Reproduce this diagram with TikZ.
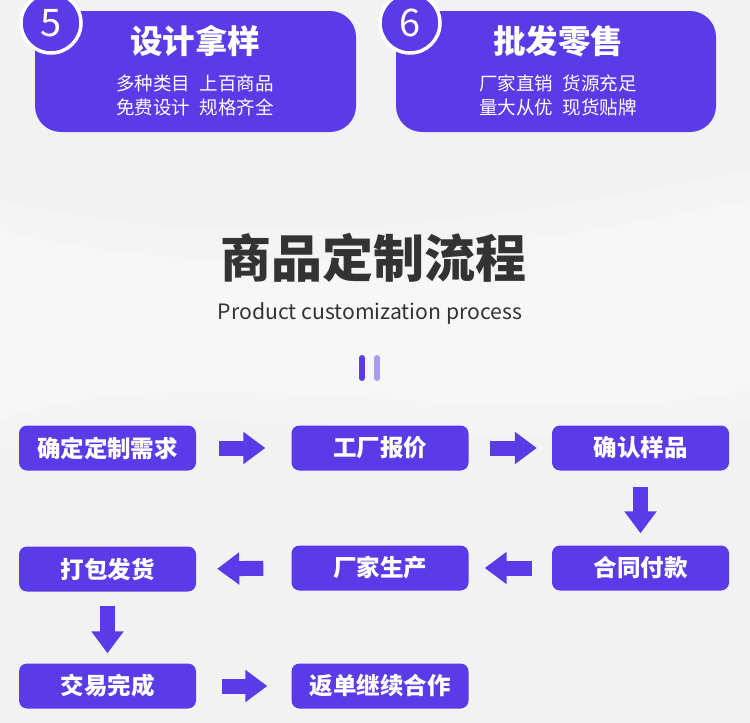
\documentclass[tikz,border=0pt]{standalone}
\usepackage{fontspec}
\setmainfont{Noto Sans CJK SC}
\usetikzlibrary{arrows.meta}
\definecolor{purp}{HTML}{5B3BE8}
\definecolor{lpurp}{HTML}{A99CF0}
\definecolor{bg}{HTML}{F2F2F3}
\definecolor{dark}{HTML}{333333}
\tikzset{
  card/.style={fill=purp, rounded corners=26pt},
  numcirc/.style={circle, fill=purp, draw=white, line width=3.5pt, minimum size=60pt, inner sep=0pt, text=white, font=\fontsize{38}{38}\selectfont},
  cardtitle/.style={text=white, font=\fontsize{32.5}{33}\selectfont\bfseries},
  cardsub/.style={text=white, font=\fontsize{18.5}{24}\selectfont, align=center},
  stepbox/.style={fill=purp, rounded corners=8pt, minimum width=177pt, minimum height=45pt, inner sep=0pt, text=white, font=\fontsize{23.5}{24}\selectfont\bfseries},
  blk/.style={draw=purp, line width=15pt, -{Triangle[length=22pt,width=31pt]}},
}
\begin{document}
\begin{tikzpicture}[x=1pt,y=-1pt]
\useasboundingbox (0,0) rectangle (750,723);
\fill[bg] (0,0) rectangle (750,723);
\fill[white, opacity=0.2] (0,200) .. controls (250,260) and (500,220) .. (750,170) -- (750,420) .. controls (500,470) and (200,380) .. (0,450) -- cycle;
\fill[white, opacity=0.2] (0,230) .. controls (250,290) and (500,250) .. (750,200) -- (750,390) .. controls (500,440) and (200,350) .. (0,420) -- cycle;
\fill[white, opacity=0.2] (0,260) .. controls (250,320) and (500,280) .. (750,230) -- (750,360) .. controls (500,410) and (200,320) .. (0,390) -- cycle;

% top cards
\fill[card] (35,11) rectangle (356,132);
\node[numcirc] (n5) at (51,23) {5};
\node[cardtitle] (t5) at (195,41) {设计拿样};
\node[cardsub] (s5) at (195,95) {多种类目\hspace{0.5em}上百商品\\免费设计\hspace{0.5em}规格齐全};

\fill[card] (396,11) rectangle (716,132);
\node[numcirc] (n6) at (410,23) {6};
\node[cardtitle] (t6) at (558,41) {批发零售};
\node[cardsub] (s6) at (558,95) {厂家直销\hspace{0.5em}货源充足\\量大从优\hspace{0.5em}现货贴牌};

% heading
\node[text=dark, font=\fontsize{51}{51}\selectfont\bfseries] (title) at (373,258) {商品定制流程};
\node[text=dark, font=\fontsize{21.2}{22}\selectfont] (sub) at (370,313) {Product customization process};
\draw[purp, line width=6pt, line cap=round] (362,358) -- (362,378);
\draw[lpurp, line width=6pt, line cap=round] (377,358) -- (377,378);

% flow boxes
\node[stepbox] (b1) at (107.5,448) {确定定制需求};
\node[stepbox] (b2) at (380,448) {工厂报价};
\node[stepbox] (b3) at (640.5,448) {确认样品};
\node[stepbox] (b4) at (640.5,568) {合同付款};
\node[stepbox] (b5) at (380,568) {厂家生产};
\node[stepbox] (b6) at (107.5,569) {打包发货};
\node[stepbox] (b7) at (107.5,686) {交易完成};
\node[stepbox] (b8) at (380,686) {返单继续合作};

% block arrows
\draw[blk, shorten <=23pt, shorten >=26pt] (b1.east) -- (b2.west);
\draw[blk, shorten <=21pt, shorten >=15pt] (b2.east) -- (b3.west);
\draw[blk, shorten <=16pt, shorten >=12pt] (b3.south) -- (b4.north);
\draw[blk, shorten <=20pt, shorten >=16pt] (b4.west) -- (b5.east);
\draw[blk, shorten <=28pt, shorten >=21pt] (b5.west) -- (b6.east);
\draw[blk, shorten <=14pt, shorten >=10pt] (b6.south) -- (b7.north);
\draw[blk, shorten <=26pt, shorten >=24pt] (b7.east) -- (b8.west);
\end{tikzpicture}
\end{document}
